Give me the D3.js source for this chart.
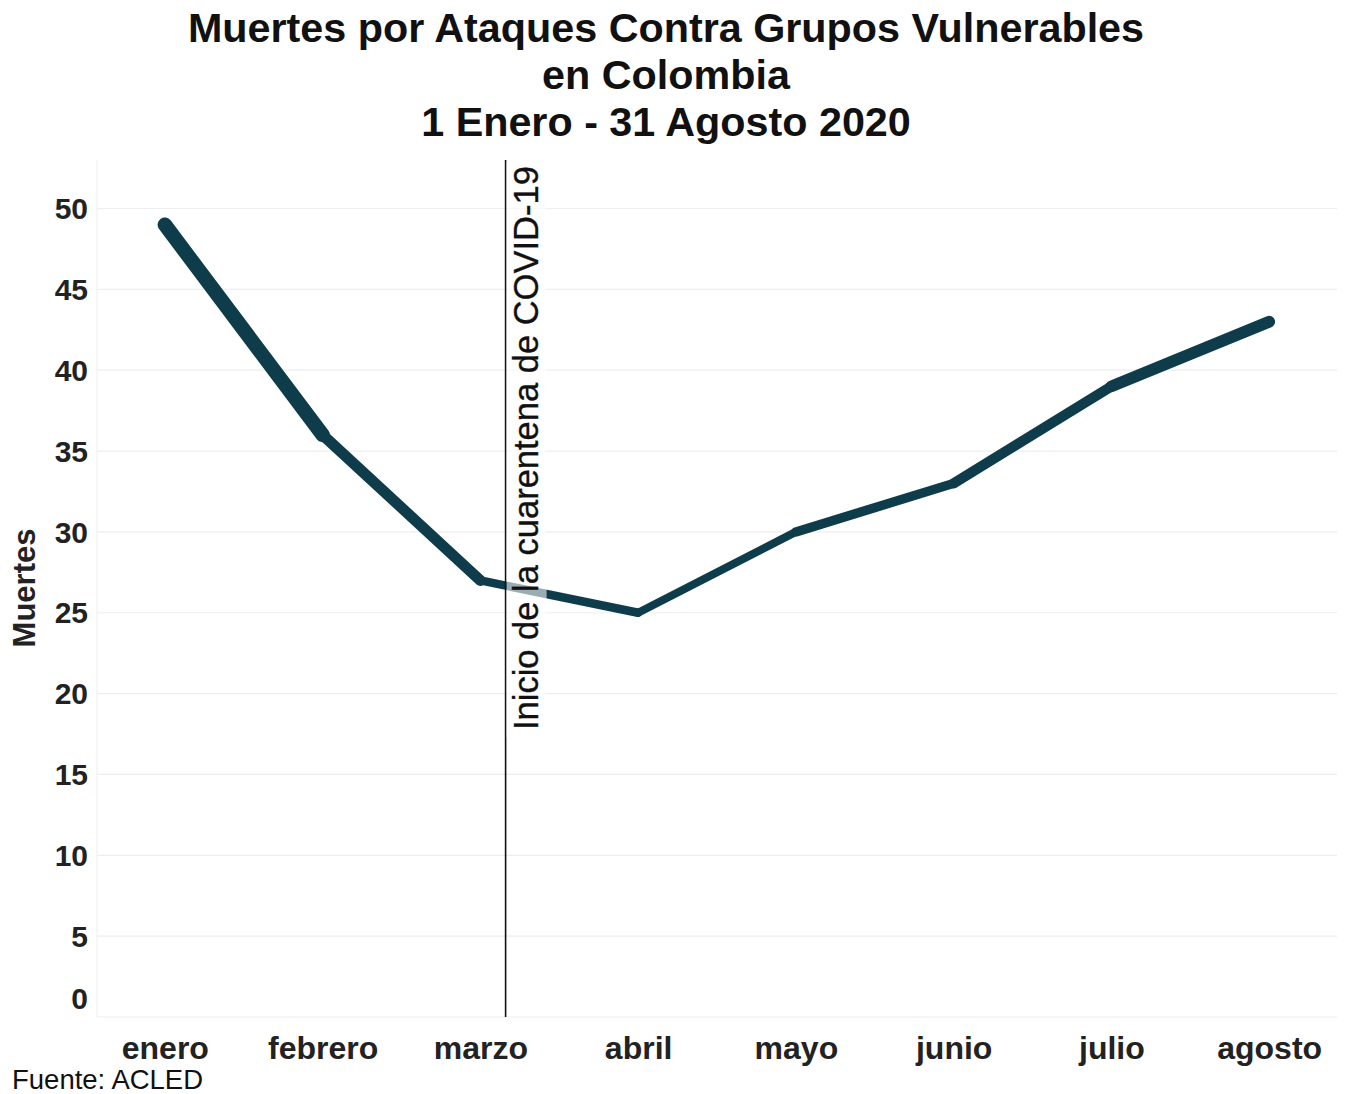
<!DOCTYPE html>
<html><head><meta charset="utf-8">
<script src="https://cdn.jsdelivr.net/npm/d3@7"></script>
<style>body{margin:0;background:#fff}svg{display:block}text{font-family:"Liberation Sans",Arial,sans-serif}</style>
</head><body>
<script>
const months = ["enero","febrero","marzo","abril","mayo","junio","julio","agosto"];
const deaths = [49,36,27,25,30,33,39,43];
const yTicks = [0,5,10,15,20,25,30,35,40,45,50];
const quarantineIndex = 2.16;
const titleLines = ["Muertes por Ataques Contra Grupos Vulnerables","en Colombia","1 Enero - 31 Agosto 2020"];
const annotation = "Inicio de la cuarentena de COVID-19";

const W=1345,H=1094;
const svg=d3.select("body").append("svg").attr("width",W).attr("height",H);
const L=97,R=1337,T=160,B=1017;
const x=d3.scalePoint().domain(months).range([L,R]).padding(0.43);
const xc=d3.scaleLinear().domain([0,months.length-1]).range([x(months[0]),x(months[months.length-1])]);
const y=d3.scaleLinear().domain([0,53]).range([B,T]);
const w=d3.scaleLinear().domain([25,49]).range([8,14.5]);
const color="#0e3c4b";

// title
svg.append("g").selectAll("text").data(titleLines).join("text")
  .attr("x",666).attr("y",(d,i)=>42+i*47).attr("text-anchor","middle")
  .attr("font-size",41.3).attr("font-weight","bold").attr("fill","#111").text(d=>d);

// grid
svg.append("g").selectAll("line").data(yTicks).join("line")
  .attr("x1",L).attr("x2",R).attr("y1",d=>y(d)).attr("y2",d=>y(d))
  .attr("stroke","#eeeeee").attr("stroke-width",1.2);
svg.append("line").attr("x1",L).attr("x2",L).attr("y1",T).attr("y2",B).attr("stroke","#f2f2f2").attr("stroke-width",1.2);

// y axis
const ya=svg.append("g").attr("transform",`translate(${L-9},0)`)
  .call(d3.axisLeft(y).tickValues(yTicks).tickSize(0).tickPadding(0));
ya.select(".domain").remove();
ya.selectAll("text").attr("font-size",30).attr("font-weight","bold").attr("fill","#222")
  .attr("font-family","Liberation Sans, Arial, sans-serif")
  .attr("dy",d=>d===0?"-0.3em":"0.34em");

// x axis
const xa=svg.append("g").attr("transform",`translate(0,${B})`)
  .call(d3.axisBottom(x).tickSize(0).tickPadding(0));
xa.select(".domain").remove();
xa.selectAll("text").attr("font-size",32).attr("font-weight","bold").attr("fill","#222")
  .attr("font-family","Liberation Sans, Arial, sans-serif").attr("dy","1.3em");

// y title
svg.append("text").attr("transform","translate(35,588) rotate(-90)").attr("text-anchor","middle")
  .attr("font-size",31).attr("font-weight","bold").attr("fill","#222").text("Muertes");

// line segments with varying width
const segs=deaths.slice(0,-1).map((v,i)=>({a:i,b:i+1,v}));
svg.append("g").selectAll("line").data(segs).join("line")
  .attr("x1",d=>x(months[d.a])).attr("y1",d=>y(deaths[d.a]))
  .attr("x2",d=>x(months[d.b])).attr("y2",d=>y(deaths[d.b]))
  .attr("stroke",color).attr("stroke-width",d=>w(d.v)).attr("stroke-linecap","round");

// vline
const vx=xc(quarantineIndex);
svg.append("line").attr("x1",vx).attr("x2",vx).attr("y1",T).attr("y2",B).attr("stroke","#111").attr("stroke-width",1.6);
svg.append("rect").attr("x",vx+1).attr("y",T+2).attr("width",40).attr("height",575)
  .attr("fill","#fff").attr("opacity",0.58);
svg.append("text").attr("transform",`translate(${vx+32},730) rotate(-90)`).attr("text-anchor","start")
  .attr("font-size",34.5).attr("fill","#111").attr("stroke","#111").attr("stroke-width",0.35).text(annotation);

// source
svg.append("text").attr("x",12).attr("y",1089).attr("font-size",27.5).attr("fill","#111").text("Fuente: ACLED");
</script>
</body></html>
